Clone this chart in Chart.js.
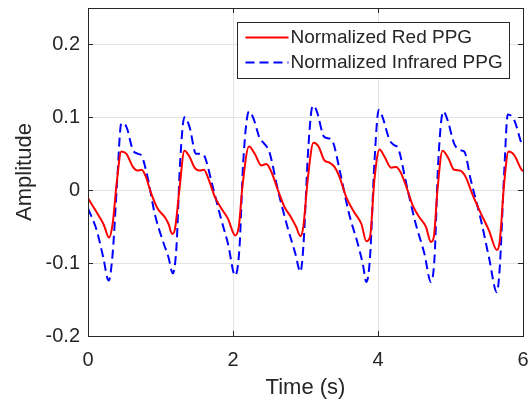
<!DOCTYPE html>
<html>
<head>
<meta charset="utf-8">
<script src="https://cdn.jsdelivr.net/npm/chart.js@4"></script>
<style>
    html, body { margin: 0; padding: 0; background: #fff; }
    #wrap { width: 529px; height: 401px; }
</style>
</head>
<body>
<div id="wrap"><canvas id="grafico"></canvas></div>
<script>
const timeRed = [0, 0.16, 0.22, 0.29, 0.34, 0.40, 0.46, 0.53, 0.62, 0.68, 0.74, 0.80, 0.87, 0.96, 1.06, 1.11, 1.16, 1.20, 1.26, 1.33, 1.40, 1.47, 1.54, 1.60, 1.66, 1.75, 1.84, 1.93, 2.03, 2.08, 2.13, 2.22, 2.30, 2.39, 2.46, 2.53, 2.62, 2.71, 2.80, 2.87, 2.93, 2.97, 3.03, 3.11, 3.18, 3.26, 3.33, 3.40, 3.47, 3.56, 3.67, 3.77, 3.84, 3.89, 3.95, 4.02, 4.09, 4.18, 4.25, 4.31, 4.39, 4.48, 4.57, 4.66, 4.73, 4.77, 4.82, 4.89, 4.97, 5.05, 5.13, 5.21, 5.30, 5.42, 5.53, 5.64, 5.68, 5.74, 5.80, 5.88, 5.98, 6.00];
const ampRed = [-0.011, -0.037, -0.048, -0.065, -0.046, 0.014, 0.053, 0.050, 0.032, 0.027, 0.028, 0.018, -0.004, -0.025, -0.037, -0.046, -0.060, -0.053, 0.000, 0.054, 0.046, 0.031, 0.027, 0.028, 0.016, -0.009, -0.025, -0.039, -0.062, -0.050, 0.005, 0.060, 0.050, 0.034, 0.036, 0.025, 0.000, -0.023, -0.037, -0.050, -0.063, -0.050, 0.014, 0.065, 0.060, 0.041, 0.038, 0.032, 0.018, -0.009, -0.030, -0.046, -0.070, -0.064, 0.014, 0.056, 0.046, 0.031, 0.032, 0.025, 0.005, -0.021, -0.037, -0.050, -0.071, -0.064, 0.000, 0.054, 0.044, 0.028, 0.027, 0.018, -0.005, -0.032, -0.055, -0.082, -0.069, 0.009, 0.053, 0.048, 0.028, 0.026];

const timeIr = [0, 0.12, 0.21, 0.285, 0.34, 0.40, 0.46, 0.53, 0.62, 0.69, 0.74, 0.83, 0.92, 1.03, 1.11, 1.17, 1.22, 1.27, 1.33, 1.40, 1.49, 1.56, 1.61, 1.72, 1.84, 1.93, 2.03, 2.09, 2.14, 2.22, 2.28, 2.37, 2.43, 2.50, 2.62, 2.75, 2.86, 2.93, 2.97, 3.04, 3.10, 3.15, 3.26, 3.33, 3.38, 3.47, 3.60, 3.72, 3.79, 3.84, 3.89, 3.95, 4.01, 4.06, 4.16, 4.22, 4.28, 4.39, 4.52, 4.64, 4.73, 4.78, 4.83, 4.90, 4.96, 5.05, 5.13, 5.19, 5.28, 5.42, 5.53, 5.64, 5.68, 5.74, 5.79, 5.88, 5.98, 6.00];
const ampIr = [-0.025, -0.055, -0.092, -0.124, -0.087, 0.009, 0.092, 0.087, 0.055, 0.050, 0.047, 0.014, -0.032, -0.069, -0.092, -0.114, -0.078, 0.037, 0.100, 0.087, 0.050, 0.050, 0.046, 0.005, -0.041, -0.073, -0.117, -0.078, 0.037, 0.108, 0.099, 0.071, 0.064, 0.053, 0.000, -0.050, -0.087, -0.112, -0.078, 0.060, 0.116, 0.110, 0.073, 0.071, 0.066, 0.028, -0.032, -0.073, -0.101, -0.126, -0.092, 0.037, 0.110, 0.101, 0.069, 0.062, 0.057, 0.009, -0.046, -0.087, -0.126, -0.092, 0.037, 0.108, 0.096, 0.064, 0.055, 0.053, 0.014, -0.041, -0.092, -0.140, -0.105, 0.023, 0.104, 0.096, 0.064, 0.060];

const xTicks = [0, 2, 4, 6];
const yTicks = [-0.2, -0.1, 0, 0.1, 0.2];
const seriesLabels = ['Normalized Red PPG', 'Normalized Infrared PPG'];

const textColor = '#262626';
const fontFamily = '"Liberation Sans", Arial, sans-serif';

const toPoints = (ts, ys) => ts.map((t, i) => ({ x: t, y: ys[i] }));

// no extra room for edge tick labels, the chart area is set by the layout padding
const noEdgePadding = s => {
    s.paddingTop = 0; s.paddingBottom = 0;
    s.paddingLeft = 0; s.paddingRight = 0;
};

// MATLAB style box, inward ticks and boxed legend
const axesBox = {
    id: 'axesBox',
    afterDatasetsDraw(chart) {
        const { ctx, chartArea: a, scales } = chart;
        ctx.save();
        ctx.strokeStyle = textColor;
        ctx.lineWidth = 1;
        ctx.beginPath();
        xTicks.forEach(v => {
            const px = Math.round(scales.x.getPixelForValue(v)) + 0.5;
            ctx.moveTo(px, a.bottom); ctx.lineTo(px, a.bottom - 5);
            ctx.moveTo(px, a.top); ctx.lineTo(px, a.top + 5);
        });
        yTicks.forEach(v => {
            const py = Math.round(scales.y.getPixelForValue(v)) + 0.5;
            ctx.moveTo(a.left, py); ctx.lineTo(a.left + 5, py);
            ctx.moveTo(a.right, py); ctx.lineTo(a.right - 5, py);
        });
        ctx.stroke();
        ctx.strokeRect(Math.round(a.left) + 0.5, Math.round(a.top) + 0.5,
            Math.round(a.right - a.left), Math.round(a.bottom - a.top));

        // legend
        const lx = Math.round(a.right) - 286 + 0.5;
        const ly = Math.round(a.top) + 14 + 0.5;
        ctx.fillStyle = '#fff';
        ctx.fillRect(lx, ly, 272, 56);
        ctx.strokeRect(lx, ly, 272, 56);
        ctx.font = '19px ' + fontFamily;
        ctx.textBaseline = 'middle';
        chart.data.datasets.forEach((ds, i) => {
            const yy = ly + 15 + i * 25;
            ctx.beginPath();
            ctx.strokeStyle = ds.borderColor;
            ctx.lineWidth = ds.borderWidth;
            ctx.setLineDash(ds.borderDash || []);
            ctx.moveTo(lx + 8, yy);
            ctx.lineTo(lx + 51, yy);
            ctx.stroke();
            ctx.setLineDash([]);
            ctx.fillStyle = textColor;
            ctx.fillText(ds.label, lx + 53, yy);
        });
        ctx.restore();
    }
};

const ctx = document.getElementById('grafico').getContext('2d');
const chart = new Chart(ctx, {
    type: 'line',
    data: {
        datasets: [{
            label: seriesLabels[0],
            data: toPoints(timeRed, ampRed),
            borderColor: '#ff0000',
            borderWidth: 2,
            pointRadius: 0,
            cubicInterpolationMode: 'monotone'
        }, {
            label: seriesLabels[1],
            data: toPoints(timeIr, ampIr),
            borderColor: '#0000ff',
            borderWidth: 2,
            borderDash: [9, 5],
            pointRadius: 0,
            cubicInterpolationMode: 'monotone'
        }]
    },
    options: {
        responsive: true,
        maintainAspectRatio: false,
        animation: false,
        layout: { padding: { top: 8, right: 6, left: 0, bottom: 0 } },
        plugins: {
            legend: { display: false },
            tooltip: { enabled: false }
        },
        scales: {
            x: {
                type: 'linear',
                min: 0,
                max: 6,
                afterBuildTicks: s => { s.ticks = xTicks.map(v => ({ value: v })); },
                afterFit: s => { s.height = 65; noEdgePadding(s); },
                ticks: {
                    color: textColor,
                    padding: 12,
                    maxRotation: 0,
                    font: { family: fontFamily, size: 20 }
                },
                grid: { color: '#e3e3e3', drawTicks: false },
                border: { display: false },
                title: {
                    display: true,
                    text: 'Time (s)',
                    color: textColor,
                    padding: { top: 0, bottom: 0 },
                    font: { family: fontFamily, size: 22 }
                }
            },
            y: {
                min: -0.2,
                max: 0.25,
                afterBuildTicks: s => { s.ticks = yTicks.map(v => ({ value: v })); },
                afterFit: s => { s.width = 88; noEdgePadding(s); },
                ticks: {
                    color: textColor,
                    padding: 8,
                    font: { family: fontFamily, size: 20 },
                    callback: v => (Math.abs(v) < 1e-9 ? '0' : String(Math.round(v * 10) / 10))
                },
                grid: { color: '#e3e3e3', drawTicks: false },
                border: { display: false },
                title: {
                    display: true,
                    text: 'Amplitude',
                    color: textColor,
                    padding: { top: 12, bottom: 0 },
                    font: { family: fontFamily, size: 22 }
                }
            }
        }
    },
    plugins: [axesBox]
});
</script>
</body>
</html>
